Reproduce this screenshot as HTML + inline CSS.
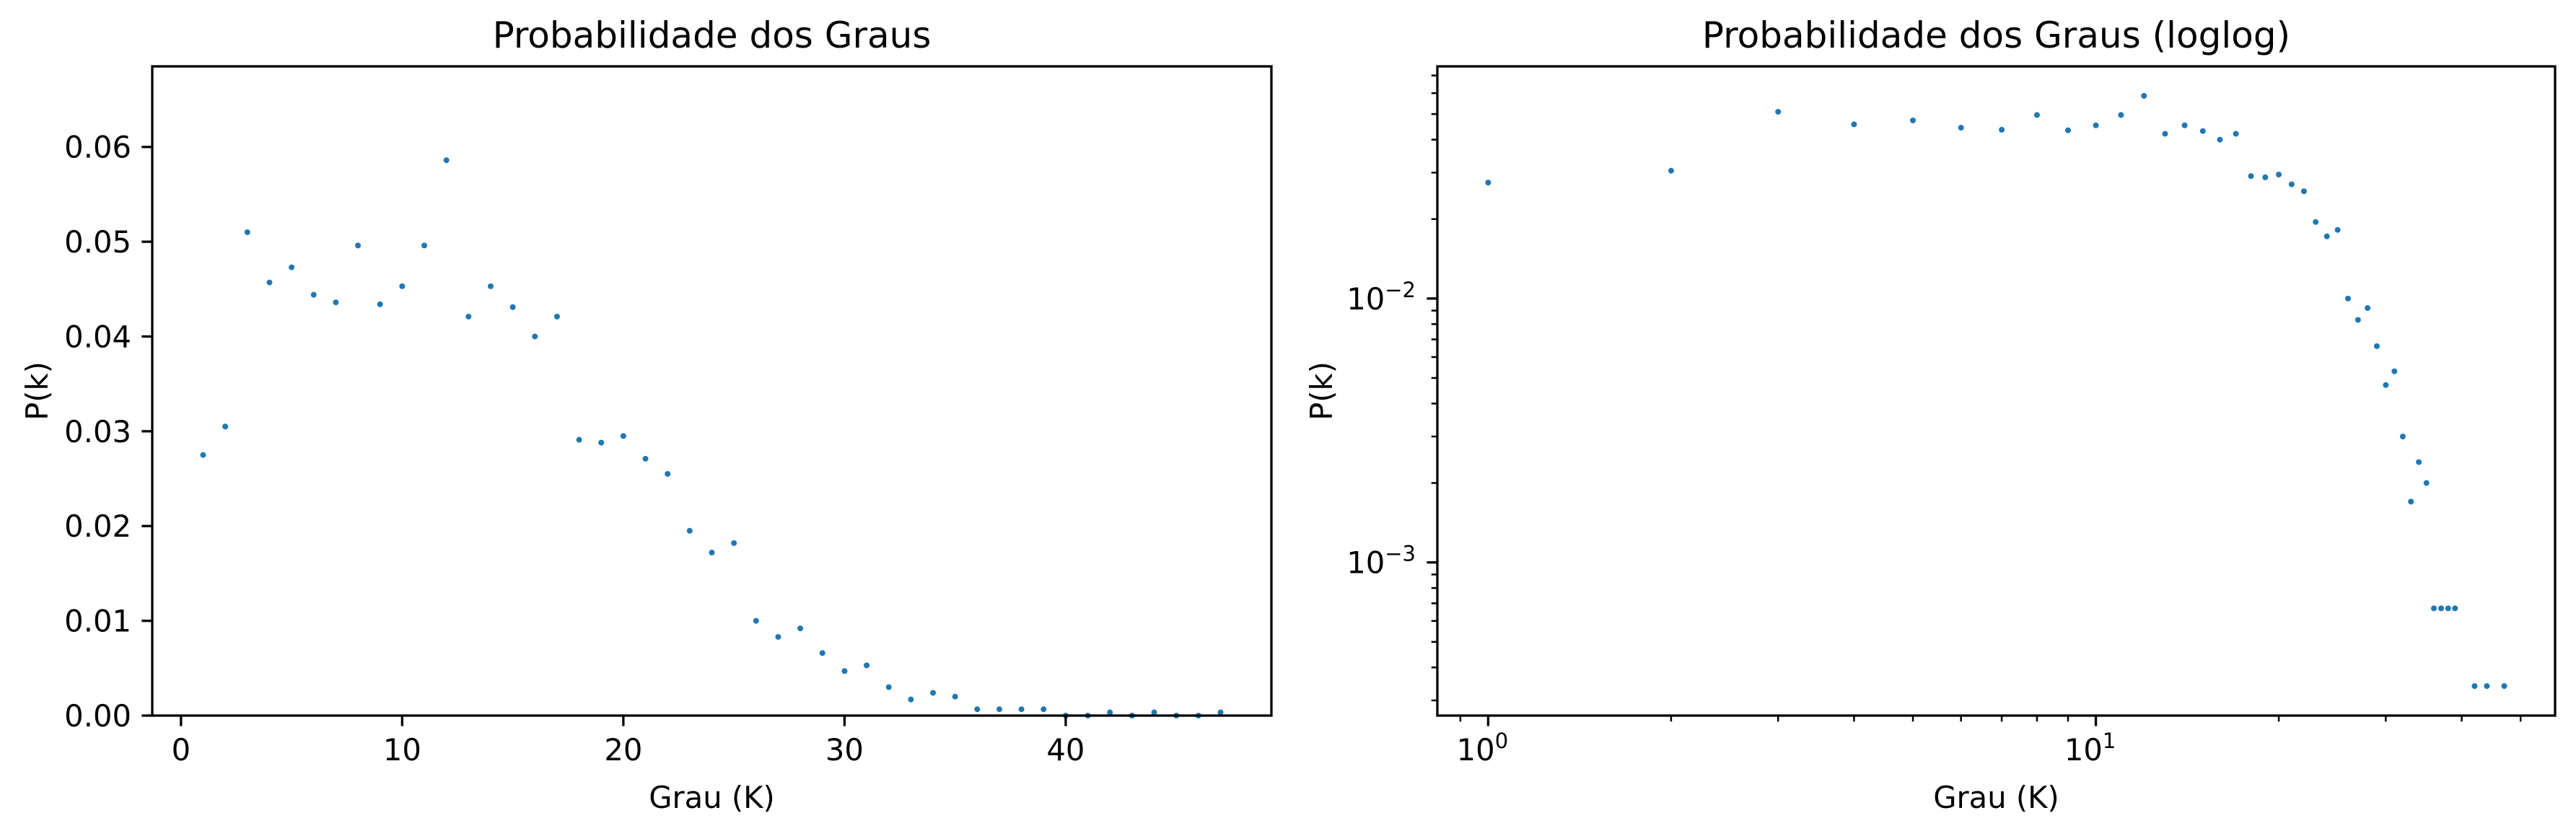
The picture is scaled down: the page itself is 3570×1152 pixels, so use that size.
<!DOCTYPE html>
<html><head><meta charset="utf-8"><style>
html,body{margin:0;padding:0;background:#fff;}
svg{display:block;}
text{font-family:"DejaVu Sans","Liberation Sans",sans-serif;fill:#000;}
</style></head><body>
<svg id="fig" width="3570" height="1152" viewBox="0 0 3570 1152" xmlns="http://www.w3.org/2000/svg">
<rect width="3570" height="1152" fill="#fff"/>
</svg>
<script>
const degrees = [1,2,3,4,5,6,7,8,9,10,11,12,13,14,15,16,17,18,19,20,21,22,23,24,25,26,27,28,29,30,31,32,33,34,35,36,37,38,39,40,41,42,43,44,45,46,47];
const probs = [0.0275,0.0305,0.0510,0.0457,0.0473,0.0444,0.0436,0.0496,0.0434,0.0453,0.0496,0.0586,0.0421,0.0453,0.0431,0.0400,0.0421,0.0291,0.0288,0.0295,0.0271,0.0255,0.0195,0.0172,0.0182,0.0100,0.0083,0.0092,0.0066,0.0047,0.0053,0.0030,0.0017,0.0024,0.0020,0.00067,0.00067,0.00067,0.00067,0,0,0.00034,0,0.00034,0,0,0.00034];
const linXTicks = [0,10,20,30,40];
const linYTicks = [0,0.01,0.02,0.03,0.04,0.05,0.06];
const linYTickLabels = ["0.00","0.01","0.02","0.03","0.04","0.05","0.06"];
const logXMajor = [0,1];
const logYMajor = [-3,-2];

const NS="http://www.w3.org/2000/svg";
const svg=document.getElementById('fig');
function el(tag,attrs,parent){const e=document.createElementNS(NS,tag);for(const k in attrs)e.setAttribute(k,attrs[k]);(parent||svg).appendChild(e);return e;}
const BLUE="#1f77b4", FS=41.7;

// ---------- Left (linear) ----------
const L={x0:211,x1:1762,y0:92,y1:992};
const xmin=Math.min(...degrees), xmax=Math.max(...degrees), xm=(xmax-xmin)*0.05;
const lxLo=xmin-xm, lxHi=xmax+xm;
const lyLo=0, lyHi=Math.max(...probs)*1.169;
const lx=v=>L.x0+(v-lxLo)/(lxHi-lxLo)*(L.x1-L.x0);
const ly=v=>L.y1-(v-lyLo)/(lyHi-lyLo)*(L.y1-L.y0);
const gL=el('g',{});


degrees.forEach((d,i)=>{
  const c=el('circle',{cx:lx(d),cy:ly(probs[i]),r:4,fill:BLUE},gL);
  
  
});
linXTicks.forEach(t=>{
  const X=lx(t);
  el('line',{x1:X,x2:X,y1:L.y1,y2:L.y1+14.6,stroke:'#000','stroke-width':3.3},gL);
  const tx=el('text',{x:X,y:1054,'font-size':FS,'text-anchor':'middle'},gL);tx.textContent=t;
  
  
});
linYTicks.forEach((t,i)=>{
  const Y=ly(t);
  el('line',{x1:L.x0,x2:L.x0-14.6,y1:Y,y2:Y,stroke:'#000','stroke-width':3.3},gL);
  const tx=el('text',{x:182,y:Y+15,'font-size':FS,'text-anchor':'end'},gL);tx.textContent=linYTickLabels[i];
  
  
});
el('rect',{x:L.x0,y:L.y0,width:L.x1-L.x0,height:L.y1-L.y0,fill:'none',stroke:'#000','stroke-width':3.3},gL);
let t1=el('text',{x:(L.x0+L.x1)/2,y:66,'font-size':50,'text-anchor':'middle'},gL);t1.textContent='Probabilidade dos Graus';


let xl1=el('text',{x:(L.x0+L.x1)/2,y:1120,'font-size':FS,'text-anchor':'middle'},gL);xl1.textContent='Grau (K)';


let yl1=el('text',{x:0,y:0,'font-size':FS,'text-anchor':'middle',transform:`translate(66,${(L.y0+L.y1)/2}) rotate(-90)`},gL);yl1.textContent='P(k)';



// ---------- Right (loglog) ----------
const R={x0:1992,x1:3541,y0:92,y1:992};
const pos=degrees.map((d,i)=>[d,probs[i]]).filter(p=>p[0]>0&&p[1]>0);
const lgx=pos.map(p=>Math.log10(p[0])), lgy=pos.map(p=>Math.log10(p[1]));
const gxMin=Math.min(...lgx),gxMax=Math.max(...lgx),gyMin=Math.min(...lgy),gyMax=Math.max(...lgy);
const rxLo=gxMin-(gxMax-gxMin)*0.05, rxHi=gxMax+(gxMax-gxMin)*0.05;
const ryLo=gyMin-(gyMax-gyMin)*0.05, ryHi=gyMax+(gyMax-gyMin)*0.05;
const rx=v=>R.x0+(Math.log10(v)-rxLo)/(rxHi-rxLo)*(R.x1-R.x0);
const ry=v=>R.y1-(Math.log10(v)-ryLo)/(ryHi-ryLo)*(R.y1-R.y0);
const gR=el('g',{});


pos.forEach(p=>{
  const c=el('circle',{cx:rx(p[0]),cy:ry(p[1]),r:4,fill:BLUE},gR);
  
  
});
// x ticks
for(let e=Math.floor(rxLo);e<=Math.ceil(rxHi);e++){
  for(let m=1;m<10;m++){
    const v=m*Math.pow(10,e), lv=Math.log10(v);
    if(lv<rxLo||lv>rxHi)continue;
    const X=rx(v), major=m===1;
    el('line',{x1:X,x2:X,y1:R.y1,y2:R.y1+(major?14.6:8.3),stroke:'#000','stroke-width':major?3.3:2.5},gR);
    if(major){
      const tx=el('text',{x:X-8,y:1054,'font-size':FS,'text-anchor':'middle'},gR);
      
      
      tx.appendChild(document.createTextNode('10'));
      const s=el('tspan',{dy:-17,'font-size':29},tx);s.textContent=String(e);
    }
  }
}
for(let e=Math.floor(ryLo);e<=Math.ceil(ryHi);e++){
  for(let m=1;m<10;m++){
    const v=m*Math.pow(10,e), lv=Math.log10(v);
    if(lv<ryLo||lv>ryHi)continue;
    const Y=ry(v), major=m===1;
    el('line',{x1:R.x0,x2:R.x0-(major?14.6:8.3),y1:Y,y2:Y,stroke:'#000','stroke-width':major?3.3:2.5},gR);
    if(major){
      const tx=el('text',{x:1962,y:Y+15,'font-size':FS,'text-anchor':'end'},gR);
      
      
      tx.appendChild(document.createTextNode('10'));
      const s=el('tspan',{dy:-17,'font-size':29},tx);s.textContent='\u2212'+Math.abs(e);
    }
  }
}
el('rect',{x:R.x0,y:R.y0,width:R.x1-R.x0,height:R.y1-R.y0,fill:'none',stroke:'#000','stroke-width':3.3},gR);
let t2=el('text',{x:(R.x0+R.x1)/2,y:66,'font-size':50,'text-anchor':'middle'},gR);t2.textContent='Probabilidade dos Graus (loglog)';


let xl2=el('text',{x:(R.x0+R.x1)/2,y:1120,'font-size':FS,'text-anchor':'middle'},gR);xl2.textContent='Grau (K)';


let yl2=el('text',{x:0,y:0,'font-size':FS,'text-anchor':'middle',transform:`translate(1846,${(R.y0+R.y1)/2}) rotate(-90)`},gR);yl2.textContent='P(k)';


</script>
</body></html>
